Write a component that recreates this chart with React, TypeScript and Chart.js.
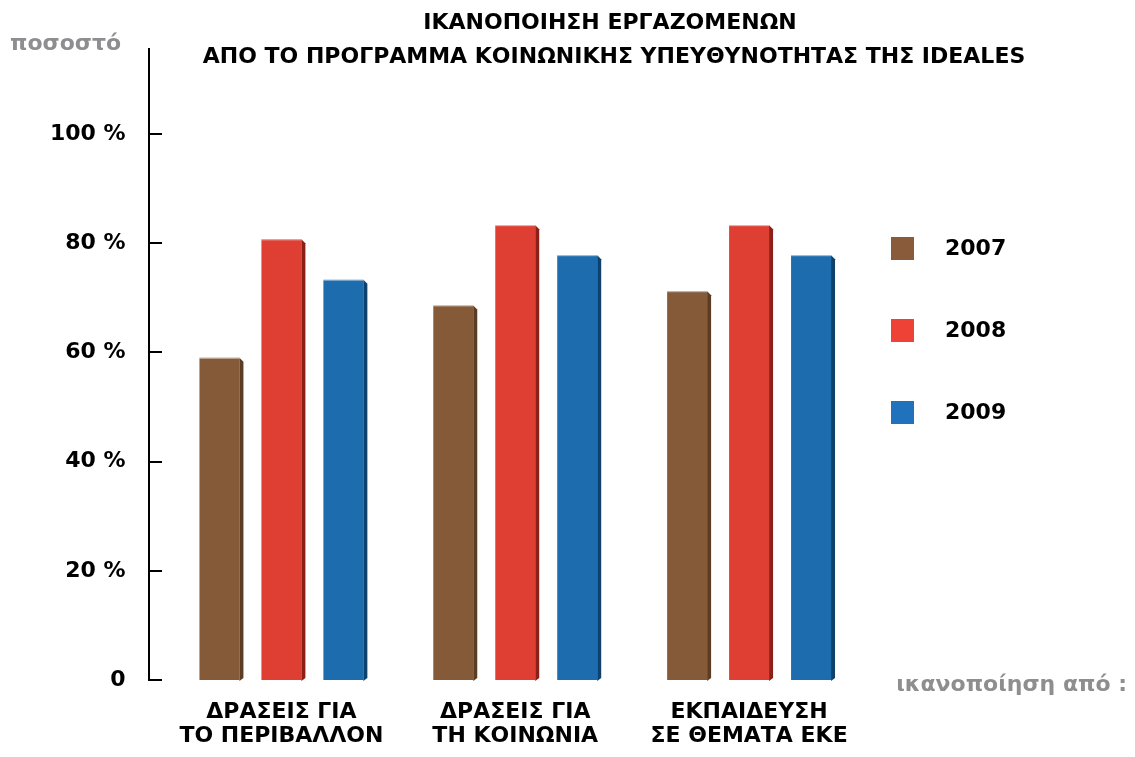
import React, { useEffect, useRef } from "react";
import { Chart, registerables } from "chart.js";

Chart.register(...registerables);

const categories: string[][] = [
  ["ΔΡΑΣΕΙΣ ΓΙΑ", "ΤΟ ΠΕΡΙΒΑΛΛΟΝ"],
  ["ΔΡΑΣΕΙΣ ΓΙΑ", "ΤΗ ΚΟΙΝΩΝΙΑ"],
  ["ΕΚΠΑΙΔΕΥΣΗ", "ΣΕ ΘΕΜΑΤΑ ΕΚΕ"],
];
const seriesNames = ["2007", "2008", "2009"];
const values2007 = [59, 68.6, 71.2];
const values2008 = [80.7, 83.3, 83.3];
const values2009 = [73.3, 77.8, 77.8];
const yTicks = [0, 20, 40, 60, 80, 100];
const titleLines = [
  "ΙΚΑΝΟΠΟΙΗΣΗ ΕΡΓΑΖΟΜΕΝΩΝ",
  "ΑΠΟ ΤΟ ΠΡΟΓΡΑΜΜΑ ΚΟΙΝΩΝΙΚΗΣ ΥΠΕΥΘΥΝΟΤΗΤΑΣ ΤΗΣ IDEALES",
];
const yAxisName = "ποσοστό";
const xAxisName = "ικανοποίηση από :";

const frontColors = ["#845A38", "#DE3F32", "#1C6CAE"];
const sideColors = ["#5C3D24", "#8A2018", "#0F416D"];
const legendColors = ["#895B3B", "#EE4236", "#1F72BB"];

const FONT = "'DejaVu Sans', sans-serif";

const decorPlugin = {
  id: "decor",
  afterDatasetsDraw(chart: any) {
    const ctx = chart.ctx;
    chart.data.datasets.forEach((ds: any, di: number) => {
      const meta = chart.getDatasetMeta(di);
      meta.data.forEach((bar: any) => {
        const r = bar.x + bar.width / 2;
        const top = bar.y;
        const base = bar.base;
        ctx.save();
        ctx.fillStyle = sideColors[di];
        ctx.beginPath();
        ctx.moveTo(r, top);
        ctx.lineTo(r + 4, top + 4);
        ctx.lineTo(r + 4, base - 2);
        ctx.lineTo(r, base + 1);
        ctx.closePath();
        ctx.fill();
        ctx.strokeStyle = "rgba(255,255,255,0.5)";
        ctx.lineWidth = 1;
        ctx.beginPath();
        ctx.moveTo(bar.x - bar.width / 2, top + 0.5);
        ctx.lineTo(r, top + 0.5);
        ctx.stroke();
        ctx.restore();
      });
    });
  },
  afterDraw(chart: any) {
    const ctx = chart.ctx;
    const y = chart.scales.y;
    const area = chart.chartArea;
    const axisX = area.left - 15.5;
    ctx.save();
    ctx.strokeStyle = "#000";
    ctx.lineWidth = 2;
    ctx.beginPath();
    ctx.moveTo(axisX, area.top);
    ctx.lineTo(axisX, y.getPixelForValue(0) + 1);
    ctx.stroke();
    yTicks.forEach((v) => {
      const py = Math.round(y.getPixelForValue(v));
      ctx.beginPath();
      ctx.moveTo(axisX - 1, py);
      ctx.lineTo(axisX + 13, py);
      ctx.stroke();
    });
    ctx.fillStyle = "#000";
    ctx.font = `bold 22px ${FONT}`;
    ctx.textAlign = "center";
    ctx.textBaseline = "middle";
    ctx.fillText(titleLines[0], 602, 15);
    ctx.fillText(titleLines[1], 606, 49);
    ctx.fillStyle = "#8E8E90";
    ctx.textBaseline = "alphabetic";
    ctx.textAlign = "left";
    ctx.fillText(yAxisName, 2, 42);
    ctx.textAlign = "right";
    ctx.fillText(xAxisName, 1119, 683);
    ctx.textAlign = "left";
    ctx.textBaseline = "middle";
    seriesNames.forEach((name, i) => {
      const top = 229 + i * 82;
      ctx.fillStyle = legendColors[i];
      ctx.fillRect(883, top, 23, 23);
      ctx.fillStyle = "#000";
      ctx.fillText(name, 937, top + 12);
    });
    ctx.restore();
  },
};

export default function App() {
  const ref = useRef<HTMLCanvasElement>(null);
  useEffect(() => {
    if (!ref.current) return;
    const chart = new Chart(ref.current, {
      type: "bar",
      data: {
        labels: categories,
        datasets: [values2007, values2008, values2009].map((d, i) => ({
          label: seriesNames[i],
          data: d,
          backgroundColor: frontColors[i],
          borderWidth: 0,
          categoryPercentage: 0.795,
          barPercentage: 0.645,
        })),
      },
      options: {
        animation: false,
        responsive: true,
        maintainAspectRatio: false,
        layout: { padding: { top: 40, right: 261, left: 0, bottom: 0 } },
        plugins: {
          legend: { display: false },
          title: { display: false },
          tooltip: { enabled: false },
        },
        scales: {
          x: {
            grid: { display: false, drawTicks: false },
            border: { display: false },
            afterFit: (s: any) => {
              s.height = 69;
              s.paddingLeft = 0;
              s.paddingRight = 0;
            },
            ticks: {
              color: "#000",
              padding: 20.5,
              font: { family: FONT, size: 22, weight: "bold", lineHeight: 1.09 },
            },
          },
          y: {
            min: 0,
            max: 115.75,
            grid: { display: false, drawTicks: false },
            border: { display: false },
            afterFit: (s: any) => {
              s.width = 156.5;
              s.paddingTop = 0;
              s.paddingBottom = 0;
            },
            afterBuildTicks: (s: any) => {
              s.ticks = yTicks.map((v) => ({ value: v }));
            },
            ticks: {
              color: "#000",
              padding: 39,
              font: { family: FONT, size: 22, weight: "bold" },
              callback: (v: any) => (Number(v) === 0 ? "0" : `${v} %`),
            },
          },
        },
      },
      plugins: [decorPlugin],
    });
    return () => chart.destroy();
  }, []);
  return (
    <div style={{ width: 1119, height: 741, position: "relative" }}>
      <canvas ref={ref} />
    </div>
  );
}
